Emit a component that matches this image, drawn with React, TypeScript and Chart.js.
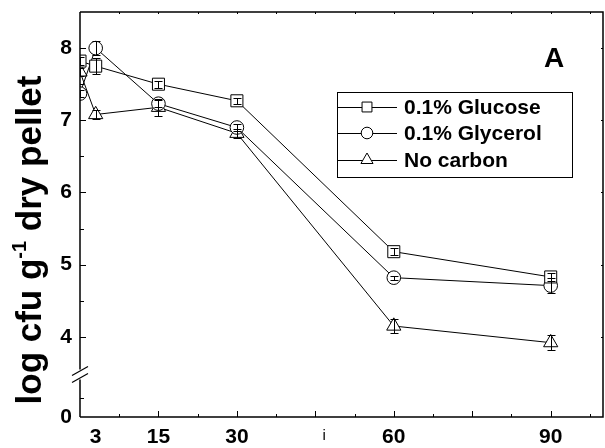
import React, { useEffect, useRef } from "react";
import { Chart, registerables } from "chart.js";

Chart.register(...registerables);

// ---- data ----
const timePoints = [0, 3, 15, 30, 60, 90];
const glucose = [7.82, 7.75, 7.5, 7.27, 5.18, 4.83];
const glucoseErr = [0.05, 0.11, 0.05, 0.04, 0.05, 0.06];
const glycerol = [7.37, 8.0, 7.23, 6.9, 4.82, 4.71];
const glycerolErr = [0.05, 0.1, 0.05, 0.05, 0.03, 0.1];
const noCarbon = [7.67, 7.08, 7.18, 6.82, 4.15, 3.92];
const noCarbonErr = [0.05, 0.06, 0.12, 0.06, 0.1, 0.1];
const seriesNames = ["0.1% Glucose", "0.1% Glycerol", "No carbon"];
const xTickLabels = [3, 15, 30, 60, 90];
const yTickLabels = [4, 5, 6, 7, 8];
const yMinorTicks = [4.5, 5.5, 6.5, 7.5];
const xMajorTicks = [15, 30, 45, 60, 75, 90];
const xMinorTicks = [7.5, 22.5, 37.5, 52.5, 67.5, 82.5, 97.5];
const yAxisMin = 2.89;
const yAxisMax = 8.5;
const yBreakValue = 3.48;
const yLowerMinor = 3.155;
const panelLetter = "A";

const FONT = 'Arial, "Liberation Sans", Helvetica, sans-serif';
const styles = ["rect", "circle", "triangle"];
const radii = [8.5, 6.8, 8.2];

const seriesValues = [glucose, glycerol, noCarbon];
const seriesErrors = [glucoseErr, glycerolErr, noCarbonErr];

function drawMarker(ctx: CanvasRenderingContext2D, style: string, x: number, y: number, r: number) {
  ctx.beginPath();
  if (style === "rect") {
    const s = Math.SQRT1_2 * r;
    ctx.rect(x - s, y - s, 2 * s, 2 * s);
  } else if (style === "circle") {
    ctx.arc(x, y, r, 0, Math.PI * 2);
  } else {
    const w = r * Math.sqrt(3) / 2;
    ctx.moveTo(x, y - r);
    ctx.lineTo(x + w, y + r / 2);
    ctx.lineTo(x - w, y + r / 2);
    ctx.closePath();
  }
  ctx.fillStyle = "#fff";
  ctx.fill();
  ctx.stroke();
}

const decorPlugin = {
  id: "decor",
  afterDatasetsDraw(chart: any) {
    const ctx: CanvasRenderingContext2D = chart.ctx;
    const xs = chart.scales.x;
    const ys = chart.scales.y;
    const a = chart.chartArea;
    ctx.save();
    ctx.beginPath();
    ctx.rect(a.left, a.top, a.right - a.left, a.bottom - a.top);
    ctx.clip();
    ctx.strokeStyle = "#000";
    ctx.lineWidth = 1;
    seriesValues.forEach((vals, si) => {
      vals.forEach((v, i) => {
        const e = seriesErrors[si][i];
        const px = Math.round(xs.getPixelForValue(timePoints[i])) + 0.5;
        const top = Math.round(ys.getPixelForValue(v + e)) + 0.5;
        const bot = Math.round(ys.getPixelForValue(v - e)) + 0.5;
        ctx.beginPath();
        ctx.moveTo(px, top);
        ctx.lineTo(px, bot);
        ctx.moveTo(px - 4, top);
        ctx.lineTo(px + 4, top);
        ctx.moveTo(px - 4, bot);
        ctx.lineTo(px + 4, bot);
        ctx.stroke();
      });
    });
    ctx.restore();
  },
  afterDraw(chart: any) {
    const ctx: CanvasRenderingContext2D = chart.ctx;
    const xs = chart.scales.x;
    const ys = chart.scales.y;
    const a = chart.chartArea;
    ctx.save();
    ctx.strokeStyle = "#000";
    ctx.fillStyle = "#000";

    // top, right, bottom frame
    ctx.lineWidth = 1.5;
    ctx.beginPath();
    ctx.moveTo(a.left, a.top);
    ctx.lineTo(a.right, a.top);
    ctx.lineTo(a.right, a.bottom);
    ctx.lineTo(a.left, a.bottom);
    ctx.stroke();

    // left axis with break
    const yb = ys.getPixelForValue(yBreakValue);
    ctx.beginPath();
    ctx.moveTo(a.left, a.top);
    ctx.lineTo(a.left, yb - 5);
    ctx.moveTo(a.left, yb + 5);
    ctx.lineTo(a.left, a.bottom);
    ctx.stroke();
    ctx.lineWidth = 1.2;
    ctx.beginPath();
    ctx.moveTo(a.left - 8, yb + 1);
    ctx.lineTo(a.left + 8, yb - 8);
    ctx.moveTo(a.left - 8, yb + 8);
    ctx.lineTo(a.left + 8, yb - 1);
    ctx.stroke();

    // x ticks (bottom, inward) and top ticks
    ctx.lineWidth = 1;
    ctx.beginPath();
    xMajorTicks.forEach((v) => {
      const px = Math.round(xs.getPixelForValue(v)) + 0.5;
      ctx.moveTo(px, a.bottom);
      ctx.lineTo(px, a.bottom - 6);
      ctx.moveTo(px, a.top);
      ctx.lineTo(px, a.top + 2);
    });
    xMinorTicks.forEach((v) => {
      const px = Math.round(xs.getPixelForValue(v)) + 0.5;
      ctx.moveTo(px, a.bottom);
      ctx.lineTo(px, a.bottom - 3);
      ctx.moveTo(px, a.top);
      ctx.lineTo(px, a.top + 2);
    });
    // y ticks
    yTickLabels.forEach((v) => {
      const py = Math.round(ys.getPixelForValue(v)) + 0.5;
      ctx.moveTo(a.left, py);
      ctx.lineTo(a.left + 6, py);
      ctx.moveTo(a.right, py);
      ctx.lineTo(a.right - 2, py);
    });
    [...yMinorTicks, yLowerMinor].forEach((v) => {
      const py = Math.round(ys.getPixelForValue(v)) + 0.5;
      ctx.moveTo(a.left, py);
      ctx.lineTo(a.left + 4, py);
    });
    ctx.stroke();

    // x labels
    ctx.font = `bold 21px ${FONT}`;
    ctx.textAlign = "center";
    ctx.textBaseline = "middle";
    xTickLabels.forEach((v) => {
      ctx.fillText(String(v), xs.getPixelForValue(v), 437);
    });
    ctx.font = `15px ${FONT}`;
    ctx.fillText("i", xs.getPixelForValue(46.7), 436);

    // y labels
    ctx.font = `bold 21px ${FONT}`;
    ctx.textAlign = "right";
    yTickLabels.forEach((v) => {
      ctx.fillText(String(v), 72, ys.getPixelForValue(v));
    });
    ctx.fillText("0", 72, ys.getPixelForValue(yAxisMin));

    // y title
    ctx.save();
    ctx.translate(41, 240);
    ctx.rotate(-Math.PI / 2);
    ctx.textBaseline = "alphabetic";
    const part1 = "log cfu g";
    const sup = "-1";
    const part2 = " dry pellet";
    const bigFont = `bold 35px ${FONT}`;
    const smallFont = `bold 20px ${FONT}`;
    ctx.font = bigFont;
    const w1 = ctx.measureText(part1).width;
    const w3 = ctx.measureText(part2).width;
    ctx.font = smallFont;
    const w2 = ctx.measureText(sup).width;
    const total = w1 + w2 + w3;
    let cx = -total / 2;
    ctx.textAlign = "left";
    ctx.font = bigFont;
    ctx.fillText(part1, cx, 0);
    cx += w1;
    ctx.font = smallFont;
    ctx.fillText(sup, cx, -15);
    cx += w2;
    ctx.font = bigFont;
    ctx.fillText(part2, cx, 0);
    ctx.restore();

    // panel letter
    ctx.font = `bold 28px ${FONT}`;
    ctx.textAlign = "center";
    ctx.textBaseline = "middle";
    ctx.fillText(panelLetter, 554, 59);

    // legend
    const lx = 337, ly = 92, lw = 235, lh = 85;
    ctx.lineWidth = 1;
    ctx.strokeRect(lx + 0.5, ly + 0.5, lw, lh);
    const rows = [107, 133, 160];
    const legR = [7, 5.8, 7];
    seriesNames.forEach((name, i) => {
      const y = rows[i];
      ctx.beginPath();
      ctx.moveTo(lx, y + 0.5);
      ctx.lineTo(lx + 60, y + 0.5);
      ctx.stroke();
      drawMarker(ctx, styles[i], lx + 30, y, legR[i]);
      ctx.fillStyle = "#000";
      ctx.font = `bold 21px ${FONT}`;
      ctx.textAlign = "left";
      ctx.textBaseline = "middle";
      ctx.fillText(name, lx + 67, y + 1);
    });

    ctx.restore();
  },
};

export default function App() {
  const ref = useRef<HTMLCanvasElement>(null);
  useEffect(() => {
    if (!ref.current) return;
    const datasets = seriesValues.map((vals, si) => ({
      label: seriesNames[si],
      data: vals.map((v, i) => ({ x: timePoints[i], y: v })),
      borderColor: "#000",
      borderWidth: 1,
      pointStyle: styles[si],
      pointRadius: radii[si],
      pointBorderWidth: 1,
      pointBorderColor: "#000",
      pointBackgroundColor: "#fff",
      showLine: true,
      fill: false,
      tension: 0,
      clip: 0,
    }));
    const chart = new Chart(ref.current, {
      type: "scatter",
      data: { datasets },
      options: {
        responsive: false,
        animation: false,
        devicePixelRatio: 1,
        layout: { autoPadding: false, padding: { left: 80, right: 2, top: 12, bottom: 31 } },
        plugins: { legend: { display: false }, tooltip: { enabled: false } },
        scales: {
          x: { type: "linear", min: 0, max: 100, display: false },
          y: { type: "linear", min: yAxisMin, max: yAxisMax, display: false },
        },
      },
      plugins: [decorPlugin],
    } as any);
    return () => chart.destroy();
  }, []);
  return (
    <div style={{ position: "absolute", left: 0, top: 0, width: 605, height: 448, background: "#fff" }}>
      <canvas ref={ref} width={605} height={448} />
    </div>
  );
}
